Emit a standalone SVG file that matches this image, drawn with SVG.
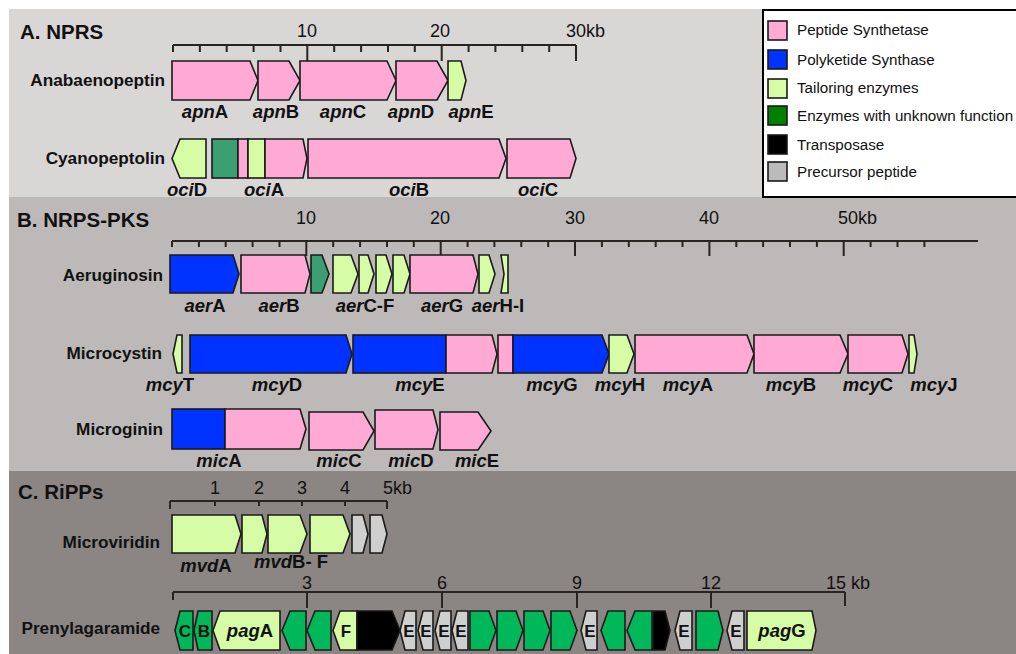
<svg xmlns="http://www.w3.org/2000/svg" width="1016" height="654" viewBox="0 0 1016 654">
<defs>
<style>
.g{stroke:#1a1a1a;stroke-width:1.6;stroke-linejoin:miter}
.pk{fill:#ffaad4}.bl{fill:#0033ff}.lg{fill:#d6fca6}.tl{fill:#3c9f74}.gn{fill:#00b85a}.bk{fill:#000}.gy{fill:#cfcfcf}
.sc{stroke:#2a2420;stroke-width:2;fill:none}
.t{font-family:"Liberation Sans",Arial,sans-serif;fill:#111}
.title{font-size:20.5px;font-weight:bold}
.num{font-size:18px}
.row{font-size:17.2px;font-weight:bold;text-anchor:end}
.lab{font-size:18.5px;font-weight:bold;text-anchor:middle}
.in{font-size:17px;font-weight:bold;text-anchor:middle}
.leg{font-size:15.2px}
.i{font-style:italic}
</style>
</defs>
<rect x="0" y="0" width="1016" height="654" fill="#ffffff"/>
<rect x="9" y="9" width="1007" height="188" fill="#d9d6d6"/>
<rect x="9" y="197" width="1007" height="274" fill="#bdb9b8"/>
<rect x="9" y="471" width="1007" height="183" fill="#8b8584"/>

<g id="legend">
<rect x="763" y="10" width="262" height="187" fill="#fff" stroke="#000" stroke-width="2"/>
<rect class="g pk" x="768" y="21" width="19" height="19"/>
<rect class="g bl" x="768" y="50" width="19" height="19"/>
<rect class="g lg" x="768" y="79" width="19" height="19"/>
<rect class="g" fill="#008000" x="768" y="106" width="19" height="19"/>
<rect class="g bk" x="768" y="135" width="19" height="19"/>
<rect class="g" fill="#bbbbbb" x="768" y="162" width="19" height="19"/>
<text class="t leg" x="797" y="35">Peptide Synthetase</text>
<text class="t leg" x="797" y="65">Polyketide Synthase</text>
<text class="t leg" x="797" y="93">Tailoring enzymes</text>
<text class="t leg" x="797" y="121">Enzymes with unknown function</text>
<text class="t leg" x="797" y="150">Transposase</text>
<text class="t leg" x="797" y="177">Precursor peptide</text>
</g>

<g id="titles">
<text class="t title" x="20" y="39">A. NPRS</text>
<text class="t title" x="17" y="227">B. NRPS-PKS</text>
<text class="t title" x="18" y="499">C. RiPPs</text>
</g>

<g id="scales">
<path class="sc" d="M173,45H576 M173,45v7 M199.9,45v7 M226.7,45v7 M253.6,45v7 M280.5,45v7 M307.3,45v16 M334.2,45v7 M361.1,45v7 M388,45v7 M414.8,45v7 M441.7,45v16 M468.6,45v7 M495.4,45v7 M522.3,45v7 M549.2,45v7 M576,45v16"/>
<text class="t num" x="307" y="37" text-anchor="middle">10</text>
<text class="t num" x="440" y="37" text-anchor="middle">20</text>
<text class="t num" x="566" y="37">30kb</text>

<path class="sc" d="M172,241H978 M172,241v6 M198.9,241v6 M225.7,241v6 M252.6,241v6 M279.5,241v6 M306.3,241v15 M333.2,241v6 M360.1,241v6 M387,241v6 M413.8,241v6 M440.7,241v15 M467.6,241v6 M494.4,241v6 M521.3,241v6 M548.2,241v6 M575,241v15 M601.9,241v6 M628.8,241v6 M655.7,241v6 M682.5,241v6 M709.4,241v15 M736.3,241v6 M763.1,241v6 M790,241v6 M816.9,241v6 M843.7,241v15 M870.6,241v6 M897.5,241v6 M924.4,241v6"/>
<text class="t num" x="306" y="224" text-anchor="middle">10</text>
<text class="t num" x="440" y="224" text-anchor="middle">20</text>
<text class="t num" x="575" y="224" text-anchor="middle">30</text>
<text class="t num" x="709" y="224" text-anchor="middle">40</text>
<text class="t num" x="838" y="224">50kb</text>

<path class="sc" d="M170,501H387 M170,501v8 M215,501v5 M259,501v5 M302,501v5 M345,501v5 M387,501v8"/>
<text class="t num" x="215" y="494" text-anchor="middle">1</text>
<text class="t num" x="259" y="494" text-anchor="middle">2</text>
<text class="t num" x="302" y="494" text-anchor="middle">3</text>
<text class="t num" x="345" y="494" text-anchor="middle">4</text>
<text class="t num" x="383" y="494">5kb</text>

<path class="sc" d="M173,592H845 M173,592v8 M307,592v16 M442,592v16 M577,592v16 M711,592v16 M845,592v14"/>
<text class="t num" x="307" y="589" text-anchor="middle">3</text>
<text class="t num" x="442" y="589" text-anchor="middle">6</text>
<text class="t num" x="577" y="589" text-anchor="middle">9</text>
<text class="t num" x="711" y="589" text-anchor="middle">12</text>
<text class="t num" x="826" y="589">15 kb</text>
</g>

<g id="anabaenopeptin">
<text class="t row" x="165" y="86">Anabaenopeptin</text>
<g id="apnA"><polygon class="g pk" points="172,61 250,61 258,80.5 250,100 172,100"/><text class="t lab" x="205" y="118"><tspan class="i">apn</tspan>A</text></g>
<g id="apnB"><polygon class="g pk" points="258,61 289,61 300,80.5 289,100 258,100"/><text class="t lab" x="276" y="118"><tspan class="i">apn</tspan>B</text></g>
<g id="apnC"><polygon class="g pk" points="300,61 387,61 396,80.5 387,100 300,100"/><text class="t lab" x="343" y="118"><tspan class="i">apn</tspan>C</text></g>
<g id="apnD"><polygon class="g pk" points="396,61 437,61 448,80.5 437,100 396,100"/><text class="t lab" x="411" y="118"><tspan class="i">apn</tspan>D</text></g>
<g id="apnE"><polygon class="g lg" points="448,61 461,61 466,80.5 461,100 448,100"/><text class="t lab" x="471" y="118"><tspan class="i">apn</tspan>E</text></g>
</g>

<g id="cyanopeptolin">
<text class="t row" x="165" y="164">Cyanopeptolin</text>
<g id="ociD"><polygon class="g lg" points="172,158.5 180,139 206,139 206,178 180,178"/><text class="t lab" x="187" y="196"><tspan class="i">oci</tspan>D</text></g>
<g id="ociA">
<rect class="g tl" x="212" y="139" width="26" height="39"/>
<rect class="g pk" x="238" y="139" width="10" height="39"/>
<rect class="g lg" x="248" y="139" width="17" height="39"/>
<polygon class="g pk" points="265,139 303,139 307,158.5 303,178 265,178"/>
<text class="t lab" x="264" y="196"><tspan class="i">oci</tspan>A</text></g>
<g id="ociB"><polygon class="g pk" points="308,139 499,139 506,158.5 499,178 308,178"/><text class="t lab" x="409" y="196"><tspan class="i">oci</tspan>B</text></g>
<g id="ociC"><polygon class="g pk" points="507,139 570,139 576,158.5 570,178 507,178"/><text class="t lab" x="538" y="196"><tspan class="i">oci</tspan>C</text></g>
</g>

<g id="aeruginosin">
<text class="t row" x="163" y="281">Aeruginosin</text>
<g id="aerA"><polygon class="g bl" points="170,255 233,255 239,274 233,293 170,293"/><text class="t lab" x="205" y="312"><tspan class="i">aer</tspan>A</text></g>
<g id="aerB"><polygon class="g pk" points="241,255 305,255 310,274 305,293 241,293"/><text class="t lab" x="279" y="312"><tspan class="i">aer</tspan>B</text></g>
<g id="aer-unknown"><polygon class="g tl" points="311,255 322,255 329,274 322,293 311,293"/></g>
<g id="aerC-F">
<polygon class="g lg" points="333,255 351,255 358,274 351,293 333,293"/>
<polygon class="g lg" points="359,255 368,255 374,274 368,293 359,293"/>
<polygon class="g lg" points="376,255 386,255 392,274 386,293 376,293"/>
<polygon class="g lg" points="393,255 404,255 410,274 404,293 393,293"/>
<text class="t lab" x="365" y="312"><tspan class="i">aer</tspan>C-F</text></g>
<g id="aerG"><polygon class="g pk" points="410,255 473,255 478,274 473,293 410,293"/><text class="t lab" x="442" y="312"><tspan class="i">aer</tspan>G</text></g>
<g id="aerH-I">
<polygon class="g lg" points="479,255 489,255 495,274 489,293 479,293"/>
<polygon class="g lg" points="501,255 508,255 508,293 501,293 504,274"/>
<text class="t lab" x="498" y="312"><tspan class="i">aer</tspan>H-I</text></g>
</g>

<g id="microcystin">
<text class="t row" x="162" y="359">Microcystin</text>
<g id="mcyT"><polygon class="g lg" points="173,354 177,335 182,335 182,373 177,373"/><text class="t lab" x="170" y="391"><tspan class="i">mcy</tspan>T</text></g>
<g id="mcyD"><polygon class="g bl" points="190,335 346,335 352,354 346,373 190,373"/><text class="t lab" x="277" y="391"><tspan class="i">mcy</tspan>D</text></g>
<g id="mcyE"><rect class="g bl" x="353" y="335" width="93" height="38"/><polygon class="g pk" points="446,335 492,335 497,354 492,373 446,373"/><text class="t lab" x="420" y="391"><tspan class="i">mcy</tspan>E</text></g>
<g id="mcyG"><rect class="g pk" x="498" y="335" width="15" height="38"/><polygon class="g bl" points="513,335 602,335 609,354 602,373 513,373"/><text class="t lab" x="552" y="391"><tspan class="i">mcy</tspan>G</text></g>
<g id="mcyH"><polygon class="g lg" points="609,335 627,335 634,354 627,373 609,373"/><text class="t lab" x="620" y="391"><tspan class="i">mcy</tspan>H</text></g>
<g id="mcyA"><polygon class="g pk" points="635,335 747,335 754,354 747,373 635,373"/><text class="t lab" x="688" y="391"><tspan class="i">mcy</tspan>A</text></g>
<g id="mcyB"><polygon class="g pk" points="754,335 840,335 848,354 840,373 754,373"/><text class="t lab" x="791" y="391"><tspan class="i">mcy</tspan>B</text></g>
<g id="mcyC"><polygon class="g pk" points="848,335 902,335 908,354 902,373 848,373"/><text class="t lab" x="868" y="391"><tspan class="i">mcy</tspan>C</text></g>
<g id="mcyJ"><polygon class="g lg" points="909,335 914,335 917,354 914,373 909,373"/><text class="t lab" x="934" y="391"><tspan class="i">mcy</tspan>J</text></g>
</g>

<g id="microginin">
<text class="t row" x="163" y="435">Microginin</text>
<g id="micA"><rect class="g bl" x="172" y="409" width="53" height="40"/><polygon class="g pk" points="225,409 300,409 306,429 300,449 225,449"/><text class="t lab" x="219" y="467"><tspan class="i">mic</tspan>A</text></g>
<g id="micC"><polygon class="g pk" points="309,412 363,412 374,431 363,450 309,450"/><text class="t lab" x="339" y="467"><tspan class="i">mic</tspan>C</text></g>
<g id="micD"><polygon class="g pk" points="375,410 433,410 438,429.5 433,449 375,449"/><text class="t lab" x="411" y="467"><tspan class="i">mic</tspan>D</text></g>
<g id="micE"><polygon class="g pk" points="440,412 478,412 491,431 478,450 440,450"/><text class="t lab" x="477" y="467"><tspan class="i">mic</tspan>E</text></g>
</g>

<g id="microviridin">
<text class="t row" x="160" y="548">Microviridin</text>
<g id="mvdA"><polygon class="g lg" points="172,515 235,515 241,534 235,553 172,553"/><text class="t lab" x="206" y="572"><tspan class="i">mvd</tspan>A</text></g>
<g id="mvdB-F">
<polygon class="g lg" points="242,515 262,515 267,534 262,553 242,553"/>
<polygon class="g lg" points="268,515 300,515 307,534 300,553 268,553"/>
<polygon class="g lg" points="310,515 343,515 350,534 343,553 310,553"/>
<text class="t lab" x="291" y="568"><tspan class="i">mvd</tspan>B- F</text></g>
<g id="mvd-precursors">
<polygon class="g gy" points="352,515 363,515 368,534 363,553 352,553"/>
<polygon class="g gy" points="370,515 382,515 387,534 382,553 370,553"/>
</g>
</g>

<g id="prenylagaramide">
<text class="t row" x="160" y="634">Prenylagaramide</text>
<g id="pagC"><polygon class="g gn" points="175,630.5 180,611 193,611 193,650 180,650"/><text class="t in" x="185" y="637">C</text></g>
<g id="pagB"><polygon class="g gn" points="194,630.5 198,611 212,611 212,650 198,650"/><text class="t in" x="204" y="637">B</text></g>
<g id="pagA"><polygon class="g lg" points="213,630.5 220,611 280,611 280,650 220,650"/><text class="t lab" x="250" y="637"><tspan class="i">pag</tspan>A</text></g>
<g id="pag-g1"><polygon class="g gn" points="282,630.5 290,611 306,611 306,650 290,650"/></g>
<g id="pag-g2"><polygon class="g gn" points="307,630.5 315,611 331,611 331,650 315,650"/></g>
<g id="pagF"><polygon class="g lg" points="333,630.5 340,611 357,611 357,650 340,650"/><text class="t in" x="346" y="637">F</text></g>
<g id="pag-tp1"><polygon class="g bk" points="357,611 392,611 400,630.5 392,650 357,650"/></g>
<g id="pagE1"><polygon class="g gy" points="400,630.5 405,611 416,611 416,650 405,650"/><text class="t in" x="409" y="637">E</text></g>
<g id="pagE2"><polygon class="g gy" points="418,630.5 423,611 433,611 433,650 423,650"/><text class="t in" x="426" y="637">E</text></g>
<g id="pagE3"><polygon class="g gy" points="435,630.5 440,611 451,611 451,650 440,650"/><text class="t in" x="444" y="637">E</text></g>
<g id="pagE4"><polygon class="g gy" points="452,630.5 457,611 468,611 468,650 457,650"/><text class="t in" x="461" y="637">E</text></g>
<g id="pag-g3"><polygon class="g gn" points="470,611 489,611 496,630.5 489,650 470,650"/></g>
<g id="pag-g4"><polygon class="g gn" points="497,611 516,611 523,630.5 516,650 497,650"/></g>
<g id="pag-g5"><polygon class="g gn" points="524,611 543,611 550,630.5 543,650 524,650"/></g>
<g id="pag-g6"><polygon class="g gn" points="551,611 570,611 577,630.5 570,650 551,650"/></g>
<g id="pagE5"><polygon class="g gy" points="581,630.5 586,611 597,611 597,650 586,650"/><text class="t in" x="590" y="637">E</text></g>
<g id="pag-g7"><polygon class="g gn" points="601,630.5 608,611 625,611 625,650 608,650"/></g>
<g id="pag-g8"><polygon class="g gn" points="627,630.5 635,611 652,611 652,650 635,650"/></g>
<g id="pag-tp2"><polygon class="g bk" points="653,611 665,611 670,630.5 665,650 653,650"/></g>
<g id="pagE6"><polygon class="g gy" points="675,630.5 680,611 692,611 692,650 680,650"/><text class="t in" x="684" y="637">E</text></g>
<g id="pag-g9"><polygon class="g gn" points="696,611 718,611 723,630.5 718,650 696,650"/></g>
<g id="pagE7"><polygon class="g gy" points="727,630.5 732,611 744,611 744,650 732,650"/><text class="t in" x="736" y="637">E</text></g>
<g id="pagG"><polygon class="g lg" points="747,611 812,611 816,630.5 812,650 747,650"/><text class="t lab" x="782" y="637"><tspan class="i">pag</tspan>G</text></g>
</g>
</svg>
